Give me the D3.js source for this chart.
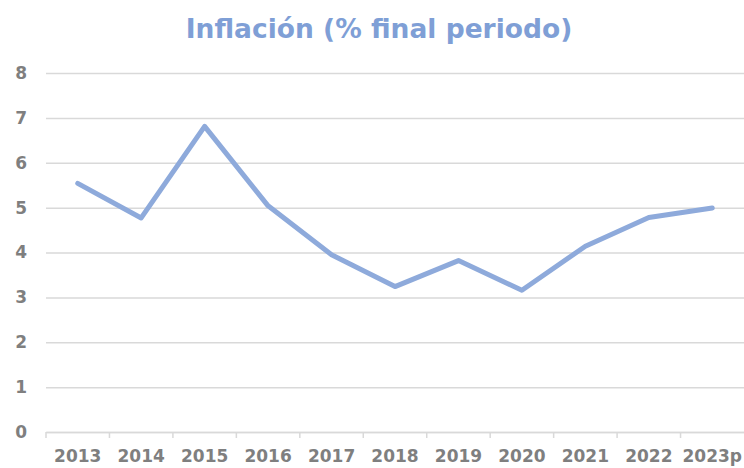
<!DOCTYPE html>
<html><head><meta charset="utf-8">
<script src="https://cdn.jsdelivr.net/npm/d3@7"></script>
<style>body{margin:0;background:#fff}svg{display:block}</style>
</head><body>
<script>
const categories = ["2013","2014","2015","2016","2017","2018","2019","2020","2021","2022","2023p"];
const inflation = [5.54, 4.77, 6.81, 5.04, 3.95, 3.24, 3.82, 3.16, 4.14, 4.78, 4.99];
const yTicks = [0,1,2,3,4,5,6,7,8];
const title = "Inflación (% final periodo)";

const W = 744, H = 468;
const m = {left: 46, right: 0, top: 73, bottom: 36};
const svg = d3.select("body").append("svg").attr("width", W).attr("height", H);
const font = "'DejaVu Sans', sans-serif";

const x = d3.scaleBand().domain(categories).range([m.left, W - m.right]);
const y = d3.scaleLinear().domain([0, 8]).range([H - m.bottom, m.top]);

svg.append("text").attr("x", 379).attr("y", 38).attr("text-anchor", "middle")
  .attr("font-family", font).attr("font-weight", "bold").attr("font-size", 26.5)
  .attr("fill", "#7f9fd6").text(title);

// gridlines
const gy = svg.append("g").attr("transform", `translate(${m.left},0)`)
  .call(d3.axisLeft(y).tickValues(yTicks).tickSize(-(W - m.left - m.right)).tickFormat(d3.format("d")).tickPadding(19));
gy.select(".domain").remove();
gy.selectAll(".tick line").attr("stroke", "#d9d9d9").attr("stroke-width", 1.5);
gy.selectAll(".tick text").attr("font-family", font).attr("font-weight", "bold")
  .attr("font-size", 17).attr("fill", "#7f7f7f");

// x axis
const gx = svg.append("g").attr("transform", `translate(0,${y(0)})`)
  .call(d3.axisBottom(x).tickSize(0).tickPadding(18));
gx.select(".domain").attr("stroke", "#d9d9d9").attr("stroke-width", 1.5);
gx.selectAll(".tick text").attr("font-family", font).attr("font-weight", "bold")
  .attr("font-size", 17).attr("fill", "#7f7f7f");
// tick marks between categories
svg.append("g").selectAll("line").data(categories).join("line")
  .attr("x1", d => x(d)).attr("x2", d => x(d))
  .attr("y1", y(0)).attr("y2", y(0) + 6)
  .attr("stroke", "#d9d9d9").attr("stroke-width", 1.5);

const line = d3.line().x((d, i) => x(categories[i]) + x.bandwidth() / 2).y(d => y(d));
svg.append("path").datum(inflation).attr("d", line)
  .attr("fill", "none").attr("stroke", "#8eaadb").attr("stroke-width", 5)
  .attr("stroke-linejoin", "round").attr("stroke-linecap", "round");
</script>
</body></html>
